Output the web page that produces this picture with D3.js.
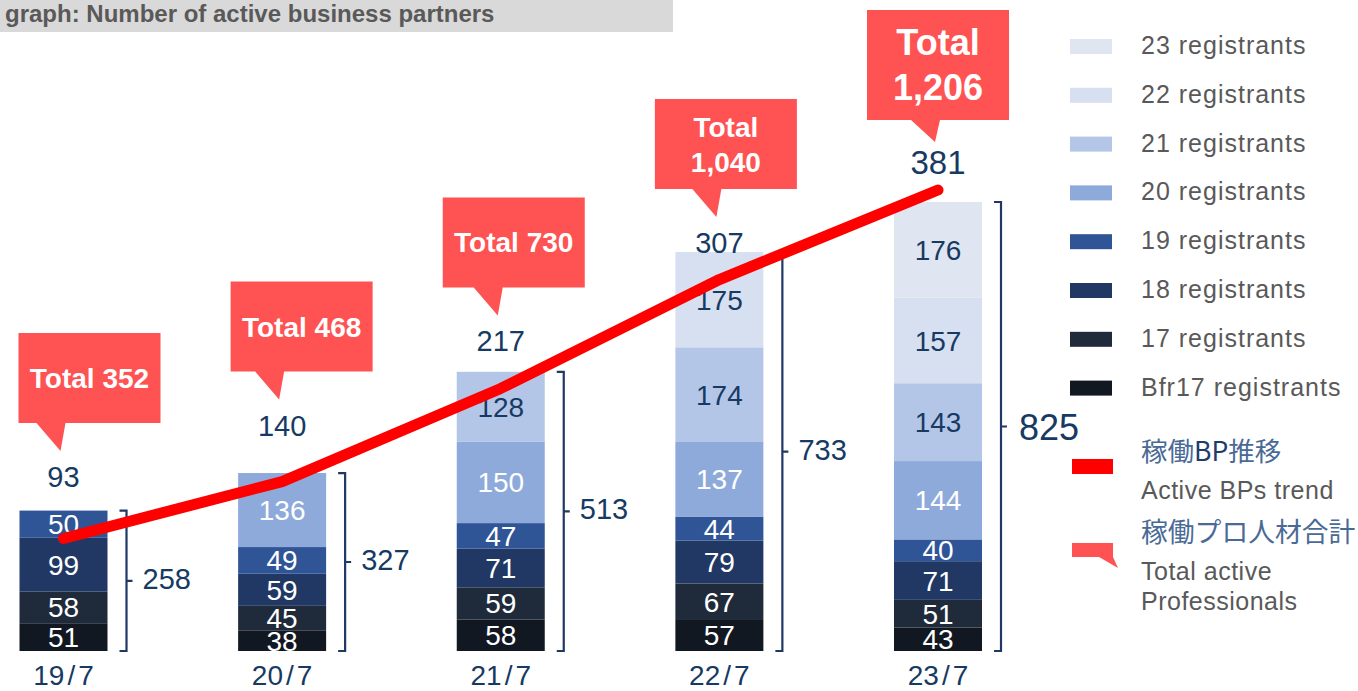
<!DOCTYPE html>
<html>
<head>
<meta charset="utf-8">
<script src="https://cdn.jsdelivr.net/npm/d3@7"></script>
<style>
  html, body { margin: 0; padding: 0; background: #ffffff; }
  svg { display: block; font-family: "Liberation Sans", Arial, Helvetica, sans-serif; }
</style>
</head>
<body>
<svg id="chart" width="1358" height="691"></svg>
<script>
// ---------------- data ----------------
const categories = ["19/7", "20/7", "21/7", "22/7", "23/7"];
const seriesNames = ["Bfr17 registrants", "17 registrants", "18 registrants", "19 registrants",
                     "20 registrants", "21 registrants", "22 registrants", "23 registrants"];
const bfr17 = [51, 38, 58, 57, 43];
const reg17 = [58, 45, 59, 67, 51];
const reg18 = [99, 59, 71, 79, 71];
const reg19 = [50, 49, 47, 44, 40];
const reg20 = [0, 136, 150, 137, 144];
const reg21 = [0, 0, 128, 174, 143];
const reg22 = [0, 0, 0, 175, 157];
const reg23 = [0, 0, 0, 0, 176];
const activeBPs = [93, 140, 217, 307, 381];          // 稼働BP推移
const totalPros = [352, 468, 730, 1040, 1206];       // 稼働プロ人材合計
const titleText = "graph: Number of active business partners";

// ---------------- styles ----------------
const seriesColors = ["#121821", "#1f2a3a", "#213864", "#2f5597", "#8eaadb", "#b4c6e7", "#d7e0f1", "#dfe5f1"];
const lightLabel = [false, false, false, false, false, true, true, true];
const navy = "#173a63";
const grey = "#595959";
const calloutFill = "#ff5252";
const lineRed = "#ff0000";

const seriesValues = [bfr17, reg17, reg18, reg19, reg20, reg21, reg22, reg23];
const table = categories.map((c, i) => {
  const row = { cat: c };
  seriesNames.forEach((s, k) => row[s] = seriesValues[k][i]);
  return row;
});
const stack = d3.stack().keys(seriesNames)(table);
const barTotals = table.map(r => d3.sum(seriesNames, s => r[s]));

const svg = d3.select("#chart");
const W = 1358, H = 691;
const barBottom = 651, barTopMax = 202;
const barW = 88;

const x = d3.scalePoint().domain(categories).range([63.5, 938]);
const y = d3.scaleLinear().domain([0, d3.max(barTotals)]).range([barBottom, barTopMax]);
const yLine = d3.scaleLinear().domain([0, d3.max(activeBPs)]).range([barBottom, 190]);
const yLab = d3.scaleLinear().domain([d3.min(activeBPs), d3.max(activeBPs)]).range([477, 162]);

// ---------------- title ----------------
svg.append("rect").attr("x", 0).attr("y", 0).attr("width", 673).attr("height", 32).attr("fill", "#d9d9d9");
svg.append("text").attr("x", 5).attr("y", 22).attr("font-size", 24).attr("font-weight", "bold")
  .attr("fill", grey).text(titleText);

// ---------------- bars ----------------
const defs = svg.append("defs");
defs.append("clipPath").attr("id", "barclip").append("rect")
  .attr("x", 0).attr("y", 0).attr("width", W).attr("height", barBottom);

const layer = svg.append("g").selectAll("g").data(stack).join("g")
  .attr("fill", (d, k) => seriesColors[k]);
layer.selectAll("rect").data(d => d.filter(p => p[1] > p[0])).join("rect")
  .attr("x", p => x(p.data.cat) - barW / 2)
  .attr("width", barW)
  .attr("y", p => y(p[1]))
  .attr("height", p => y(p[0]) - y(p[1]));

const labG = svg.append("g").attr("clip-path", "url(#barclip)");
stack.forEach((s, k) => {
  labG.selectAll(null).data(s.filter(p => p[1] > p[0])).join("text")
    .attr("x", p => x(p.data.cat))
    .attr("y", p => (y(p[0]) + y(p[1])) / 2 + 10)
    .attr("text-anchor", "middle")
    .attr("font-size", 28)
    .attr("fill", lightLabel[k] ? navy : "#ffffff")
    .text(p => p[1] - p[0]);
});

// ---------------- brackets ----------------
const br = svg.append("g");
categories.forEach((c, i) => {
  const bx = x(c) + barW / 2 + 19;
  const yt = y(barTotals[i]), yb = y(0);
  const ym = (yt + yb) / 2;
  br.append("path")
    .attr("d", `M${bx - 7},${yt} L${bx},${yt} L${bx},${yb} L${bx - 7},${yb} M${bx},${ym} L${bx + 6},${ym}`)
    .attr("fill", "none").attr("stroke", "#1f3864").attr("stroke-width", 2.2);
  const big = i === categories.length - 1;
  br.append("text")
    .attr("x", bx + (big ? 18 : 16))
    .attr("y", ym + (big ? 13 : 8))
    .attr("font-size", big ? 36 : 29)
    .attr("fill", navy)
    .text(barTotals[i]);
});

// ---------------- category labels ----------------
const catT = svg.append("g").selectAll("text").data(categories).join("text")
  .attr("x", d => x(d))
  .attr("y", 685)
  .attr("text-anchor", "middle")
  .attr("font-size", 28)
  .attr("fill", navy);
catT.each(function (d) {
  const parts = d.split("/");
  const t = d3.select(this);
  t.append("tspan").text(parts[0]);
  t.append("tspan").attr("dx", 3).text("/");
  t.append("tspan").attr("dx", 3).text(parts[1]);
});

// ---------------- trend line ----------------
svg.append("path")
  .datum(activeBPs)
  .attr("d", d3.line().x((v, i) => x(categories[i])).y(v => yLine(v)))
  .attr("fill", "none").attr("stroke", lineRed).attr("stroke-width", 11)
  .attr("stroke-linecap", "round").attr("stroke-linejoin", "round");

// ---------------- top labels + callouts ----------------
const co = svg.append("g");
categories.forEach((c, i) => {
  const last = i === categories.length - 1;
  const ly = yLab(activeBPs[i]);
  co.append("text")
    .attr("x", x(c)).attr("y", ly + (last ? 12 : 10))
    .attr("text-anchor", "middle")
    .attr("font-size", last ? 33 : 29)
    .attr("fill", navy)
    .text(activeBPs[i]);

  const tipX = x(c) - 3;
  const tipY = ly - (last ? 20 : 26);
  const boxH = last ? 110 : 90;
  const boxB = tipY - (last ? 22 : 28);
  const boxT = boxB - boxH;
  const boxL = x(c) - 45 - 6.5 * i;
  const boxW = 142;
  co.append("path")
    .attr("d", `M${boxL},${boxT} H${boxL + boxW} V${boxB} H${tipX + 5} L${tipX},${tipY} L${tipX - 24},${boxB} H${boxL} Z`)
    .attr("fill", calloutFill);
  const fs = last ? 36 : 28;
  const cx = boxL + boxW / 2;
  const label = d3.format(",")(totalPros[i]);
  if (totalPros[i] >= 1000) {
    const gap = last ? 45 : 35;
    const cy = (boxT + boxB) / 2;
    co.append("text").attr("x", cx).attr("y", cy - gap / 2 + fs * 0.36)
      .attr("text-anchor", "middle").attr("font-size", fs).attr("font-weight", "bold")
      .attr("fill", "#ffffff").text("Total");
    co.append("text").attr("x", cx).attr("y", cy + gap / 2 + fs * 0.36)
      .attr("text-anchor", "middle").attr("font-size", fs).attr("font-weight", "bold")
      .attr("fill", "#ffffff").text(label);
  } else {
    co.append("text").attr("x", cx).attr("y", (boxT + boxB) / 2 + fs * 0.36)
      .attr("text-anchor", "middle").attr("font-size", fs).attr("font-weight", "bold")
      .attr("fill", "#ffffff").text("Total " + label);
  }
});

// ---------------- legend ----------------
const lg = svg.append("g");
const legendOrder = seriesNames.map((s, k) => k).reverse();
legendOrder.forEach((k, j) => {
  const cy = 45 + j * 48.8;
  lg.append("rect").attr("x", 1070).attr("y", cy - 6).attr("width", 42).attr("height", 15)
    .attr("fill", seriesColors[k]);
  lg.append("text").attr("x", 1141).attr("y", cy + 9)
    .attr("font-size", 25).attr("letter-spacing", 1).attr("fill", grey)
    .text(seriesNames[k]);
});

// line legend
lg.append("rect").attr("x", 1072).attr("y", 459).attr("width", 41).attr("height", 15).attr("fill", lineRed);
const jp1 = lg.append("text").attr("x", 1141).attr("y", 461)
  .attr("font-size", 26.5).attr("fill", "#4a6a96")
  .attr("font-family", "'Noto Sans CJK JP', 'Liberation Sans', sans-serif");
jp1.append("tspan").text("稼働");
jp1.append("tspan").attr("fill", "#1f3d6b").text("BP");
jp1.append("tspan").text("推移");
lg.append("text").attr("x", 1141).attr("y", 499).attr("font-size", 25).attr("letter-spacing", 0.5)
  .attr("fill", grey).text("Active BPs trend");

// callout legend
lg.append("path").attr("d", "M1072,543 H1113 V557 L1118,568 L1099,557 H1072 Z").attr("fill", calloutFill);
lg.append("text").attr("x", 1141).attr("y", 542)
  .attr("font-size", 26.8).attr("fill", "#4a6a96")
  .attr("font-family", "'Noto Sans CJK JP', 'Liberation Sans', sans-serif")
  .text("稼働プロ人材合計");
lg.append("text").attr("x", 1141).attr("y", 580).attr("font-size", 25).attr("letter-spacing", 0.5)
  .attr("fill", grey).text("Total active");
lg.append("text").attr("x", 1141).attr("y", 610).attr("font-size", 25).attr("letter-spacing", 0.5)
  .attr("fill", grey).text("Professionals");
</script>
</body>
</html>
